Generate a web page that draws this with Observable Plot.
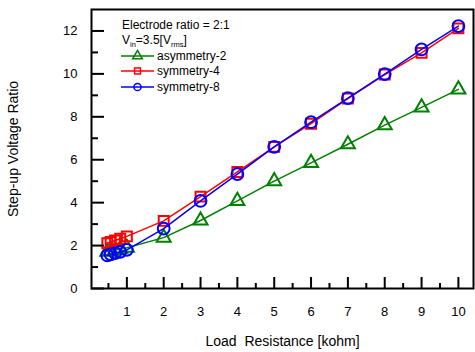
<!DOCTYPE html>
<html><head><meta charset="utf-8">
<script src="https://cdn.jsdelivr.net/npm/d3@7"></script>
<script src="https://cdn.jsdelivr.net/npm/@observablehq/plot@0.6"></script>
<style>body{margin:0;background:#fff} svg{display:block} svg text{white-space:pre}</style>
</head><body><div id="chart"></div>
<script>
// Load resistance [kohm]
const loadResistance = [0.47, 0.56, 0.68, 0.82, 1, 2, 3, 4, 5, 6, 7, 8, 9, 10];
// Step-up voltage ratio per series
const asymmetry2 = [1.72, 1.75, 1.79, 1.84, 1.9, 2.37, 3.17, 4.08, 5.0, 5.85, 6.72, 7.61, 8.44, 9.28];
const symmetry4  = [2.11, 2.17, 2.24, 2.32, 2.43, 3.15, 4.28, 5.43, 6.6, 7.68, 8.85, 9.97, 10.98, 12.12];
const symmetry8  = [1.54, 1.59, 1.65, 1.71, 1.8, 2.79, 4.08, 5.33, 6.6, 7.75, 8.87, 9.99, 11.14, 12.23];

const seriesNames = ["asymmetry-2", "symmetry-4", "symmetry-8"];
const seriesColors = ["#008000", "#ff0000", "#0000ff"];
const seriesSymbols = ["triangle", "square", "circle"];
const seriesValues = [asymmetry2, symmetry4, symmetry8];

const xMajorTicks = [1, 2, 3, 4, 5, 6, 7, 8, 9, 10];
const xMinorTicks = [0.5, 1.5, 2.5, 3.5, 4.5, 5.5, 6.5, 7.5, 8.5, 9.5];
const yMajorTicks = [0, 2, 4, 6, 8, 10, 12];
const yMinorTicks = [1, 3, 5, 7, 9, 11];

const xLabel = "Load  Resistance [kohm]";
const yLabel = "Step-up Voltage Ratio";
const legendTitle = "Electrode ratio = 2:1";

const FONT = "Arial, 'Liberation Sans', Helvetica, sans-serif";

const rows = [];
seriesNames.forEach((s, i) => loadResistance.forEach((x, j) => rows.push({x, y: seriesValues[i][j], series: s})));

const symbolR = {"triangle": 5.2, "square": 5.6, "circle": 5.9};

const marks = [];
seriesNames.forEach((s, i) => {
  const d = rows.filter(r => r.series === s);
  marks.push(Plot.line(d, {x: "x", y: "y", stroke: seriesColors[i], strokeWidth: 1.5}));
  marks.push(Plot.dot(d, {x: "x", y: "y", stroke: seriesColors[i], fill: "none", strokeWidth: 2,
    symbol: () => seriesSymbols[i], r: symbolR[seriesSymbols[i]]}));
});

const chart = Plot.plot({
  width: 475, height: 352,
  marginLeft: 91, marginRight: 2, marginTop: 9, marginBottom: 64,
  style: {fontFamily: FONT, fontSize: "13px", background: "white", color: "black", overflow: "visible"},
  x: {domain: [0.04, 10.41]},
  y: {domain: [0, 13]},
  symbol: {type: "identity"},
  marks: [
    ...marks,
    Plot.axisX({ticks: xMajorTicks, tickSize: -11, tickPadding: 29, strokeWidth: 2, label: null, fontSize: 13, fill: "black"}),
    Plot.axisX({ticks: xMinorTicks, tickSize: -5, tickFormat: () => "", strokeWidth: 2, label: null}),
    Plot.axisY({ticks: yMajorTicks, tickSize: -13, tickPadding: 27, strokeWidth: 2, label: null, fontSize: 13, fill: "black"}),
    Plot.axisY({ticks: yMinorTicks, tickSize: -7, tickFormat: () => "", strokeWidth: 2, label: null}),
    Plot.frame({stroke: "black", strokeWidth: 2}),
    Plot.text([xLabel], {frameAnchor: "bottom", dy: 57, text: d => d, fontSize: 14, fill: "black"}),
    Plot.text([yLabel], {frameAnchor: "left", dx: -78, rotate: -90, textAnchor: "middle", text: d => d, fontSize: 14, fill: "black"})
  ]
});
document.getElementById("chart").append(chart);

// Legend (inside the plot, top-left)
const svg = d3.select(chart);
const lg = svg.append("g").attr("font-family", FONT).attr("font-size", 12)
  .attr("fill", "black").attr("text-anchor", "start");
lg.append("text").attr("x", 122).attr("y", 29).text(legendTitle);
const vt = lg.append("text").attr("x", 122).attr("y", 43.5);
vt.append("tspan").text("V");
vt.append("tspan").attr("font-size", 7.5).attr("dy", 3).text("in");
vt.append("tspan").attr("dy", -3).text("=3.5[V");
vt.append("tspan").attr("font-size", 7.5).attr("dy", 3).text("rms");
vt.append("tspan").attr("dy", -3).text("]");
const legendY = [56, 71, 87];
const d3sym = {"triangle": d3.symbolTriangle, "square": d3.symbolSquare, "circle": d3.symbolCircle};
seriesNames.forEach((s, i) => {
  const y = legendY[i];
  lg.append("line").attr("x1", 121).attr("x2", 154).attr("y1", y).attr("y2", y)
    .attr("stroke", seriesColors[i]).attr("stroke-width", 1.5);
  const r = seriesSymbols[i] === "square" ? 3.3 : 3.6;
  lg.append("path").attr("transform", `translate(137.5,${y})`)
    .attr("d", d3.symbol(d3sym[seriesSymbols[i]], Math.PI * r * r)())
    .attr("fill", "none").attr("stroke", seriesColors[i]).attr("stroke-width", 1.5);
  lg.append("text").attr("x", 157).attr("y", y).attr("dy", "0.35em").text(s);
});
</script>
</body></html>
